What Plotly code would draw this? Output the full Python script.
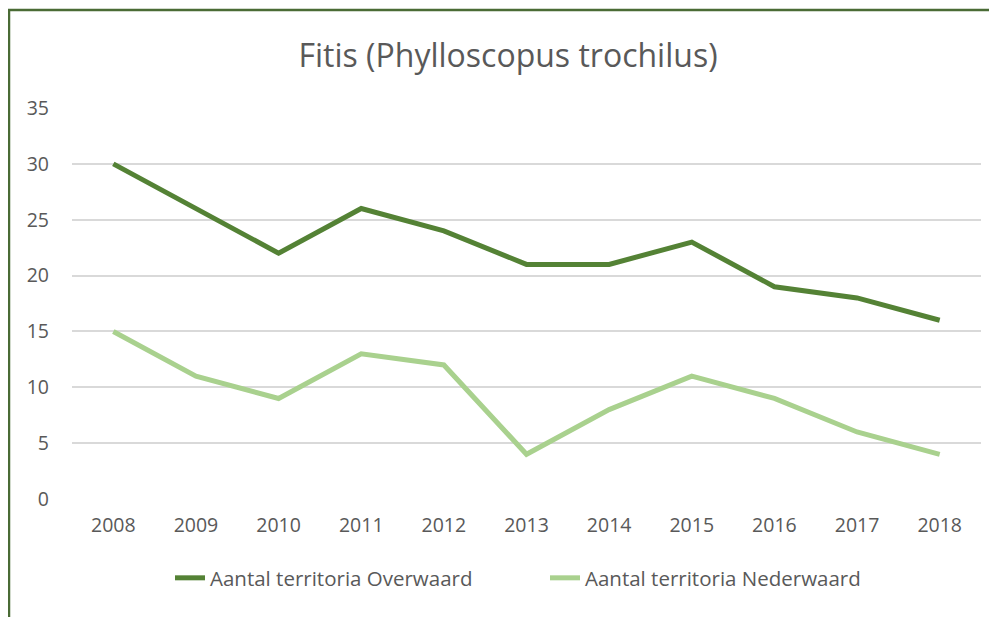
import plotly.graph_objects as go

years = ["2008", "2009", "2010", "2011", "2012", "2013", "2014", "2015", "2016", "2017", "2018"]
overwaard = [30, 26, 22, 26, 24, 21, 21, 23, 19, 18, 16]
nederwaard = [15, 11, 9, 13, 12, 4, 8, 11, 9, 6, 4]
y_ticks = [0, 5, 10, 15, 20, 25, 30, 35]

# page body has an 8px margin; figure coordinates = reference - 8
OFF = 8
W, H = 997 - OFF, 617 - OFF
L, R, T, B = 72 - OFF, 16, 108 - OFF, 118
pw, ph = W - L - R, H - T - B

def px(x):
    return (x - OFF - L) / pw

def py(y):
    return (H - B - (y - OFF)) / ph

font = "Open Sans, Lato, sans-serif"
grey = "#595959"

fig = go.Figure()
fig.add_trace(go.Scatter(x=years, y=overwaard, mode="lines", name="Aantal territoria Overwaard",
                         line=dict(color="#548235", width=5)))
fig.add_trace(go.Scatter(x=years, y=nederwaard, mode="lines", name="Aantal territoria Nederwaard",
                         line=dict(color="#A9D18E", width=5)))

fig.update_layout(
    width=W, height=H,
    margin=dict(l=L, r=R, t=T, b=B),
    paper_bgcolor="white", plot_bgcolor="white",
    title=dict(text="Fitis (Phylloscopus trochilus)", x=(508 - OFF) / W, xanchor="center",
               y=1 - (56 - OFF) / H, yanchor="middle",
               font=dict(family=font, size=32, color=grey)),
    xaxis=dict(type="category", range=[-0.5, 10.5], showgrid=False, zeroline=False, showline=False,
               tickfont=dict(family=font, size=19.5, color=grey), ticks="", ticklabelstandoff=12),
    yaxis=dict(range=[0, 35], tickvals=y_ticks, showgrid=True, gridcolor="#d9d9d9", gridwidth=1.5,
               zeroline=False, showline=False, ticks="",
               tickfont=dict(family=font, size=19.5, color=grey), ticklabelstandoff=22),
    legend=dict(orientation="h", x=px(170), xanchor="left",
                y=py(578), yanchor="middle", entrywidth=330, entrywidthmode="pixels",
                font=dict(family=font, size=20.5, color=grey), tracegroupgap=0),
    showlegend=True,
    shapes=[
        dict(type="line", xref="paper", yref="paper", x0=px(8), x1=px(1010), y0=py(10), y1=py(10),
             line=dict(color="#4a6b35", width=2.5)),
        dict(type="line", xref="paper", yref="paper", x0=px(9), x1=px(9), y0=py(10), y1=py(630),
             line=dict(color="#4a6b35", width=2.5)),
    ],
)

fig.write_html("out.html")
